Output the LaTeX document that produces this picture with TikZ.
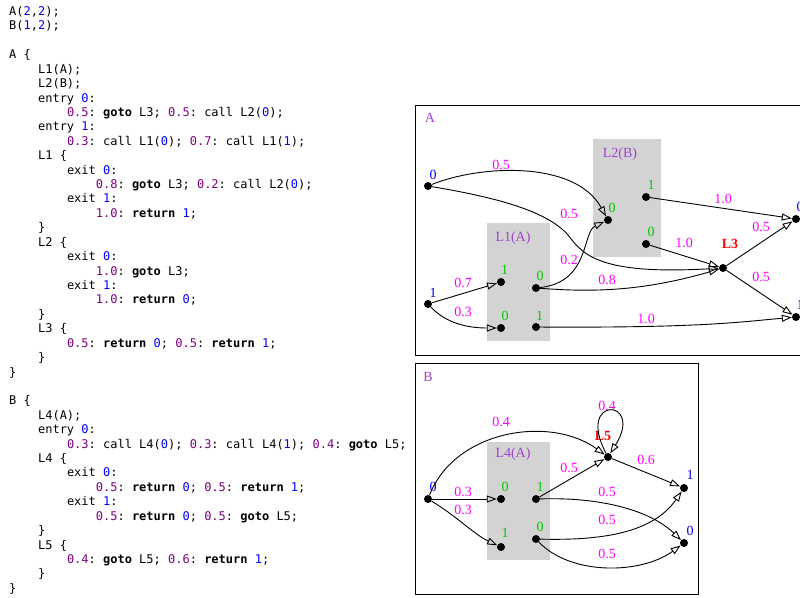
\documentclass[tikz,border=0pt]{standalone}
\usepackage{fontspec}
\setmainfont{Liberation Serif}
\setmonofont{DejaVu Sans Mono}
\usetikzlibrary{arrows.meta}
\definecolor{prcol}{HTML}{800080}
\definecolor{nmcol}{HTML}{0000FF}
\definecolor{edgecol}{HTML}{FF00FF}
\definecolor{portcol}{HTML}{00C800}
\definecolor{titcol}{HTML}{A040D0}
\definecolor{boxgray}{HTML}{D3D3D3}
\definecolor{l3red}{HTML}{FF0000}
\newcommand\pr[1]{\textcolor{prcol}{#1}}
\newcommand\nm[1]{\textcolor{nmcol}{#1}}
\newcommand\kw[1]{\textbf{#1}}
\tikzset{
  code/.style={anchor=base west, inner sep=0pt, font=\ttfamily\fontsize{12}{14}\selectfont},
  dotnode/.style={circle, fill=black, inner sep=0pt, minimum size=8pt},
  diagtext/.style={inner sep=0pt, font=\fontsize{14}{16}\selectfont},
  plbl/.style={diagtext, text=edgecol},
  elbl/.style={diagtext, text=nmcol},
  glbl/.style={diagtext, text=portcol},
  tlbl/.style={diagtext, text=titcol},
  rlbl/.style={inner sep=0pt, font=\fontsize{14}{16}\selectfont\bfseries, text=l3red},
  conn/.style={draw, line width=0.9pt, -{Triangle[open,length=10pt,width=7pt]}},
  frame/.style={draw, line width=1pt},
  module/.style={fill=boxgray, draw=none}
}
\begin{document}
\begin{tikzpicture}[x=1pt,y=-1pt]
\clip (0,0) rectangle (800,597);
\fill[white] (0,0) rectangle (800,597);
% ---------------- code listing ----------------
\node[code] (c1)  at (9,15.5)    {A(\nm{2},\nm{2});};
\node[code] (c2)  at (9,29.92)   {B(\nm{1},\nm{2});};
\node[code] (c4)  at (9,58.76)   {A \{};
\node[code] (c5)  at (37.9,73.18)  {L1(A);};
\node[code] (c6)  at (37.9,87.6)   {L2(B);};
\node[code] (c7)  at (37.9,102.02) {entry \nm{0}:};
\node[code] (c8)  at (66.8,116.44) {\pr{0.5}: \kw{goto} L3; \pr{0.5}: call L2(\nm{0});};
\node[code] (c9)  at (37.9,130.86) {entry \nm{1}:};
\node[code] (c10) at (66.8,145.28) {\pr{0.3}: call L1(\nm{0}); \pr{0.7}: call L1(\nm{1});};
\node[code] (c11) at (37.9,159.7)  {L1 \{};
\node[code] (c12) at (66.8,174.12) {exit \nm{0}:};
\node[code] (c13) at (95.7,188.54) {\pr{0.8}: \kw{goto} L3; \pr{0.2}: call L2(\nm{0});};
\node[code] (c14) at (66.8,202.96) {exit \nm{1}:};
\node[code] (c15) at (95.7,217.38) {\pr{1.0}: \kw{return} \nm{1};};
\node[code] (c16) at (37.9,231.8)  {\}};
\node[code] (c17) at (37.9,246.22) {L2 \{};
\node[code] (c18) at (66.8,260.64) {exit \nm{0}:};
\node[code] (c19) at (95.7,275.06) {\pr{1.0}: \kw{goto} L3;};
\node[code] (c20) at (66.8,289.48) {exit \nm{1}:};
\node[code] (c21) at (95.7,303.9)  {\pr{1.0}: \kw{return} \nm{0};};
\node[code] (c22) at (37.9,318.32) {\}};
\node[code] (c23) at (37.9,332.74) {L3 \{};
\node[code] (c24) at (66.8,347.16) {\pr{0.5}: \kw{return} \nm{0}; \pr{0.5}: \kw{return} \nm{1};};
\node[code] (c25) at (37.9,361.58) {\}};
\node[code] (c26) at (9,376.0)     {\}};
\node[code] (c28) at (9,404.84)    {B \{};
\node[code] (c29) at (37.9,419.26) {L4(A);};
\node[code] (c30) at (37.9,433.68) {entry \nm{0}:};
\node[code] (c31) at (66.8,448.1)  {\pr{0.3}: call L4(\nm{0}); \pr{0.3}: call L4(\nm{1}); \pr{0.4}: \kw{goto} L5;};
\node[code] (c32) at (37.9,462.52) {L4 \{};
\node[code] (c33) at (66.8,476.94) {exit \nm{0}:};
\node[code] (c34) at (95.7,491.36) {\pr{0.5}: \kw{return} \nm{0}; \pr{0.5}: \kw{return} \nm{1};};
\node[code] (c35) at (66.8,505.78) {exit \nm{1}:};
\node[code] (c36) at (95.7,520.2)  {\pr{0.5}: \kw{return} \nm{0}; \pr{0.5}: \kw{goto} L5;};
\node[code] (c37) at (37.9,534.62) {\}};
\node[code] (c38) at (37.9,549.04) {L5 \{};
\node[code] (c39) at (66.8,563.46) {\pr{0.4}: \kw{goto} L5; \pr{0.6}: \kw{return} \nm{1};};
\node[code] (c40) at (37.9,577.88) {\}};
\node[code] (c41) at (9,592.3)     {\}};
% ---------------- diagram A ----------------
\draw[frame] (415,105) rectangle (830,355);
\node[tlbl] (tA) at (430,118) {A};
\fill[module] (487,223) rectangle (550,341);
\fill[module] (593,139) rectangle (661,257);
\node[tlbl] (tL1) at (513,238) {L1(A)};
\node[tlbl] (tL2) at (620,154) {L2(B)};
\node[dotnode] (a0) at (428,186) {};
\node[dotnode] (a1) at (428,304) {};
\node[elbl] (a0l) at (433,175) {0};
\node[elbl] (a1l) at (433,293) {1};
\node[dotnode] (l1e1) at (501,282) {};
\node[dotnode] (l1e0) at (501,328) {};
\node[dotnode] (l1x0) at (536,288) {};
\node[dotnode] (l1x1) at (536,327) {};
\node[glbl] (l1e1l) at (504.5,269.5) {1};
\node[glbl] (l1e0l) at (505,316) {0};
\node[glbl] (l1x0l) at (540,276) {0};
\node[glbl] (l1x1l) at (539.5,316) {1};
\node[dotnode] (l2e0) at (608,220) {};
\node[dotnode] (l2x1) at (646,197) {};
\node[dotnode] (l2x0) at (646,244) {};
\node[glbl] (l2e0l) at (612,208) {0};
\node[glbl] (l2x1l) at (651,185) {1};
\node[glbl] (l2x0l) at (651,232) {0};
\node[dotnode] (l3) at (723,268) {};
\node[rlbl] (l3l) at (730,244) {L3};
\node[dotnode] (r0) at (796,219) {};
\node[dotnode] (r1) at (796,317) {};
\node[elbl] (r0l) at (800,207) {0};
\node[elbl] (r1l) at (800,305) {1};
% edges A
\draw[conn] (a0) .. controls (480,165) and (575,160) .. (l2e0);
\draw[conn] (a0) .. controls (500,198) and (548,212) .. (568,235) .. controls (583,255) and (600,275) .. (l3);
\draw[conn] (a1) -- (l1e1);
\draw[conn] (a1) .. controls (445,322) and (465,328) .. (l1e0);
\draw[conn] (l1x0) .. controls (590,282) and (582,232) .. (l2e0);
\draw[conn] (l1x0) .. controls (590,292) and (640,292) .. (l3);
\draw[conn] (l1x1) .. controls (700,328) and (740,322) .. (r1);
\draw[conn] (l2x1) -- (r0);
\draw[conn] (l2x0) -- (l3);
\draw[conn] (l3) -- (r0);
\draw[conn] (l3) -- (r1);
\node[plbl] (pa1) at (501,165) {0.5};
\node[plbl] (pa2) at (569,214) {0.5};
\node[plbl] (pa3) at (463,283) {0.7};
\node[plbl] (pa4) at (463,312) {0.3};
\node[plbl] (pa5) at (569,260) {0.2};
\node[plbl] (pa6) at (607,280) {0.8};
\node[plbl] (pa7) at (646,319) {1.0};
\node[plbl] (pa8) at (723,199) {1.0};
\node[plbl] (pa9) at (684,243) {1.0};
\node[plbl] (pa10) at (761,227) {0.5};
\node[plbl] (pa11) at (761,277) {0.5};
% ---------------- diagram B ----------------
\draw[frame] (415,363) rectangle (698,594);
\node[tlbl] (tB) at (428,377) {B};
\fill[module] (487,442) rectangle (550,560);
\node[tlbl] (tL4) at (513,454) {L4(A)};
\node[dotnode] (b0) at (428,499) {};
\node[elbl] (b0l) at (433,487) {0};
\node[dotnode] (l4e0) at (501,499) {};
\node[dotnode] (l4e1) at (501,547) {};
\node[dotnode] (l4x1) at (536,499) {};
\node[dotnode] (l4x0) at (536,539) {};
\node[glbl] (l4e0l) at (505,487) {0};
\node[glbl] (l4e1l) at (505,533) {1};
\node[glbl] (l4x1l) at (540,487) {1};
\node[glbl] (l4x0l) at (540,527) {0};
\node[dotnode] (l5) at (608,457) {};
\node[rlbl] (l5l) at (603,436) {L5};
\node[dotnode] (s1) at (684,488) {};
\node[dotnode] (s0) at (684,543) {};
\node[elbl] (s1l) at (690,475) {1};
\node[elbl] (s0l) at (690,531) {0};
% edges B
\draw[conn] (b0) .. controls (455,430) and (550,415) .. (l5);
\draw[conn] (b0) -- (l4e0);
\draw[conn] (b0) .. controls (455,515) and (475,535) .. (l4e1);
\draw[conn] (l4x1) -- (l5);
\draw[conn] (l5) .. controls (575,395) and (645,398) .. (l5);
\draw[conn] (l5) -- (s1);
\draw[conn] (l4x1) .. controls (600,497) and (650,510) .. (s0);
\draw[conn] (l4x0) .. controls (610,541) and (655,530) .. (s1);
\draw[conn] (l4x0) .. controls (570,575) and (640,575) .. (s0);
\node[plbl] (pb1) at (501,422) {0.4};
\node[plbl] (pb2) at (463,492) {0.3};
\node[plbl] (pb3) at (463,510) {0.3};
\node[plbl] (pb4) at (569,468) {0.5};
\node[plbl] (pb5) at (646,460) {0.6};
\node[plbl] (pb6) at (607,492) {0.5};
\node[plbl] (pb7) at (607,520) {0.5};
\node[plbl] (pb8) at (607,554) {0.5};
\node[plbl] (pb9) at (607,406) {0.4};
\end{tikzpicture}
\end{document}
